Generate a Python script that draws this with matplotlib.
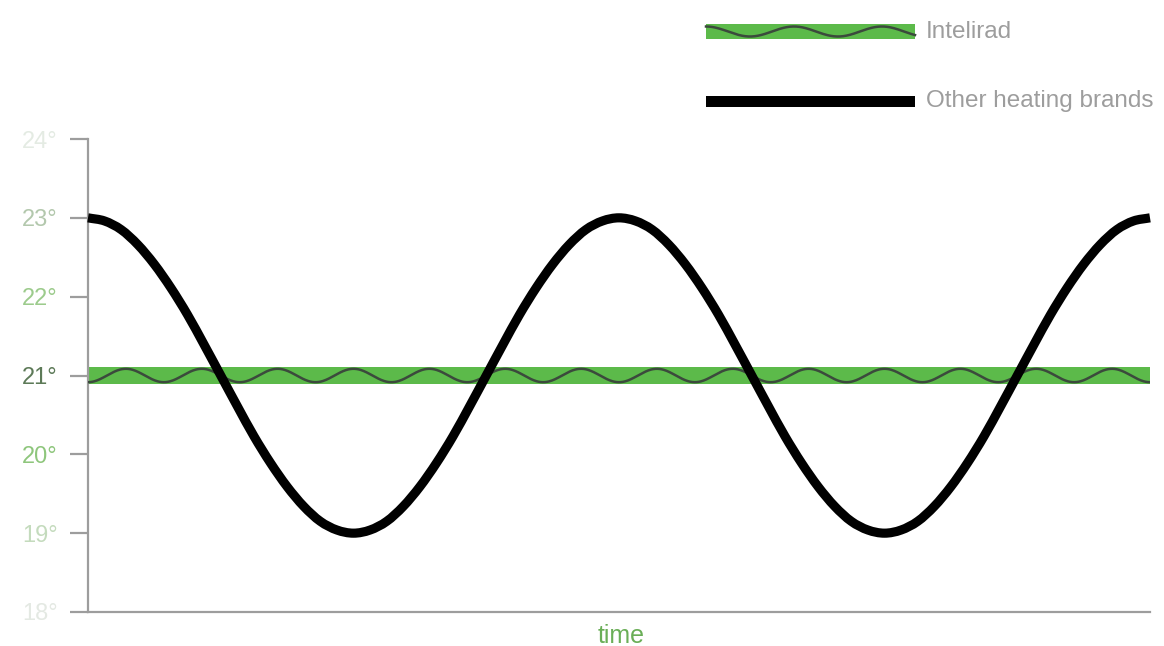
import numpy as np
import matplotlib
matplotlib.use("Agg")
import matplotlib.pyplot as plt
from matplotlib.patches import Rectangle, PathPatch
from matplotlib.path import Path

# ---- data ----
# time axis: 0..16 (two full cycles of the conventional heater), step 0.25
time_points = [i * 0.25 for i in range(65)]
other_brands = [
    23.00, 22.96, 22.85, 22.66, 22.41, 22.11, 21.77, 21.39,
    21.00, 20.61, 20.23, 19.89, 19.59, 19.34, 19.15, 19.04,
    19.00, 19.04, 19.15, 19.34, 19.59, 19.89, 20.23, 20.61,
    21.00, 21.39, 21.77, 22.11, 22.41, 22.66, 22.85, 22.96,
    23.00, 22.96, 22.85, 22.66, 22.41, 22.11, 21.77, 21.39,
    21.00, 20.61, 20.23, 19.89, 19.59, 19.34, 19.15, 19.04,
    19.00, 19.04, 19.15, 19.34, 19.59, 19.89, 20.23, 20.61,
    21.00, 21.39, 21.77, 22.11, 22.41, 22.66, 22.85, 22.96,
    23.00,
]
intelirad_time = [0, 16]
intelirad_temp = [21.0, 21.0]

y_ticks = [18, 19, 20, 21, 22, 23, 24]
y_tick_labels = ["18°", "19°", "20°", "21°", "22°", "23°", "24°"]
y_tick_colors = ["#e4e9e3", "#c4dbbd", "#8ec67c", "#5d7a58", "#9ccb8c", "#b3c8ad", "#e4ebe3"]
series_names = ["Intelirad", "Other heating brands"]
x_label = "time"

# ---- style ----
GREEN = "#5cba4a"
WAVE = "#3b4a3c"
GRAY = "#9d9d9d"
BAND_HALF = 0.105
WAVE_AMP = 0.085
WAVE_CYCLES = 14

plt.rcParams["font.family"] = ["Liberation Sans", "DejaVu Sans"]


def smooth_path(xs, ys):
    """Catmull-Rom curve through the points, as cubic Bezier segments."""
    xs = np.asarray(xs, float)
    ys = np.asarray(ys, float)
    pts = np.column_stack([xs, ys])
    ext = np.vstack([2 * pts[0] - pts[1], pts, 2 * pts[-1] - pts[-2]])
    verts = [pts[0]]
    codes = [Path.MOVETO]
    for i in range(1, len(ext) - 2):
        p0, p1, p2, p3 = ext[i - 1], ext[i], ext[i + 1], ext[i + 2]
        verts += [p1 + (p2 - p0) / 6, p2 - (p3 - p1) / 6, p2]
        codes += [Path.CURVE4] * 3
    return Path(verts, codes)


W, H = 1164, 646
fig = plt.figure(figsize=(W / 100, H / 100), dpi=100)
ax = fig.add_axes([88 / W, 1 - 612 / H, (1150 - 88) / W, (612 - 139) / H])

ax.set_xlim(min(time_points), max(time_points))
ax.set_ylim(min(y_ticks), max(y_ticks))

# Intelirad band
t0, t1 = intelirad_time
ax.fill_between(intelirad_time, [v - BAND_HALF for v in intelirad_temp],
                [v + BAND_HALF for v in intelirad_temp], color=GREEN, lw=0, zorder=2)
# decorative wave inside the band (line style of the Intelirad series)
s = np.linspace(0, 1, 1500)
ax.plot(t0 + (t1 - t0) * s, intelirad_temp[0] - WAVE_AMP * np.cos(2 * np.pi * WAVE_CYCLES * s),
        color=WAVE, lw=1.8, zorder=3, solid_capstyle="butt")

# other brands
ax.add_patch(PathPatch(smooth_path(time_points, other_brands), fill=False,
                       edgecolor="black", lw=6.6, zorder=4, capstyle="butt",
                       joinstyle="round", clip_on=False))

# axes styling
for side in ["top", "right"]:
    ax.spines[side].set_visible(False)
for side in ["left", "bottom"]:
    ax.spines[side].set_color(GRAY)
    ax.spines[side].set_linewidth(1.6)
ax.set_xticks([])
ax.set_yticks(y_ticks)
ax.set_yticklabels(y_tick_labels, fontsize=17)
ax.tick_params(axis="y", length=13, width=1.6, color=GRAY, pad=9, direction="out")
for lab, c in zip(ax.get_yticklabels(), y_tick_colors):
    lab.set_color(c)
ax.set_xlabel(x_label, fontsize=18, color="#6aae57")
ax.xaxis.set_label_coords((621 - 88) / (1150 - 88), -0.025)

# legend drawn in pixel coordinates
lg = fig.add_axes([0, 0, 1, 1], zorder=5)
lg.set_xlim(0, W)
lg.set_ylim(H, 0)
lg.axis("off")
lg.patch.set_alpha(0)
lg.add_patch(Rectangle((706, 24), 209, 15, color=GREEN, lw=0))
sx = np.linspace(706, 915, 400)
lg.plot(sx, 31.5 - 5 * np.cos(2 * np.pi * (sx - 706) / 88), color=WAVE, lw=1.8)
lg.add_patch(Rectangle((706, 96), 209, 11, color="black", lw=0))
lg.text(926, 31.5, series_names[0], fontsize=17.5, color=GRAY, va="center", ha="left")
lg.text(926, 101.5, series_names[1], fontsize=17.5, color=GRAY, va="center", ha="left")

fig.savefig("out.png", dpi=100, facecolor="white")
